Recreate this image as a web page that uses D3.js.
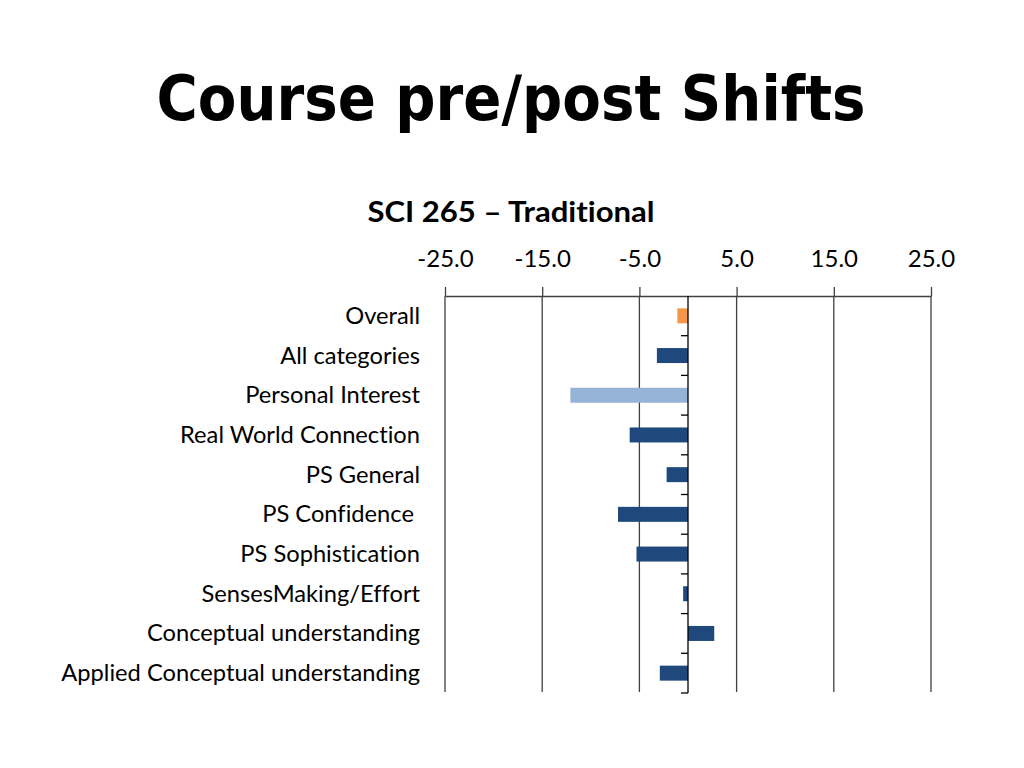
<!DOCTYPE html>
<html><head><meta charset="utf-8">
<script src="https://cdn.jsdelivr.net/npm/d3@7"></script>
<style>body{margin:0;background:#fff}svg{display:block}text{font-variant-ligatures:none;font-feature-settings:"liga" 0}</style>
</head><body>
<svg id="c" width="1024" height="768"></svg>
<script>
const categories = ["Overall","All categories","Personal Interest","Real World Connection","PS General","PS Confidence ","PS Sophistication","SensesMaking/Effort","Conceptual understanding","Applied Conceptual understanding"];
const values = [-1.1,-3.2,-12.1,-6.0,-2.2,-7.2,-5.3,-0.5,2.7,-2.9];
const barColors = ["#F79646","#1F497D","#95B3D7","#1F497D","#1F497D","#1F497D","#1F497D","#1F497D","#1F497D","#1F497D"];
const tickValues = [-25,-15,-5,5,15,25];
const title = "Course pre/post Shifts";
const subtitle = "SCI 265 \u2013 Traditional";

const svg = d3.select("#c");
const x = d3.scaleLinear().domain([-25,25]).range([445,931]);
const y = d3.scaleBand().domain(categories).range([296,693]).padding(0);
const barH = 15;
const gridCol = "#404040";

svg.append("text").attr("x",511).attr("y",120).attr("text-anchor","middle")
  .attr("font-family","DejaVu Sans").attr("font-weight","bold").attr("font-size",62)
  .attr("textLength",709).attr("lengthAdjust","spacingAndGlyphs").text(title);
svg.append("text").attr("x",511).attr("y",222).attr("text-anchor","middle")
  .attr("font-family","Lato").attr("font-weight","bold").attr("font-size",29)
  .attr("textLength",287).attr("lengthAdjust","spacingAndGlyphs").text(subtitle);

// gridlines
svg.append("g").selectAll("line").data(tickValues).join("line")
  .attr("x1",d=>x(d)).attr("x2",d=>x(d)).attr("y1",296).attr("y2",692)
  .attr("stroke",gridCol).attr("stroke-width",1.3);

// top axis
const fmt = d => d3.format(".1f")(d).replace("\u2212","-");
const ax = svg.append("g").attr("transform","translate(0,296)")
  .call(d3.axisTop(x).tickValues(tickValues).tickFormat(fmt).tickSizeInner(9).tickSizeOuter(0).tickPadding(20));
ax.select(".domain").attr("stroke",gridCol).attr("stroke-width",1.3);
ax.selectAll(".tick line").attr("stroke",gridCol).attr("stroke-width",1.3);
ax.selectAll(".tick text").attr("font-family","Lato").attr("font-size",24).attr("fill","#000").attr("dy",0);

// bars
svg.append("g").selectAll("rect").data(categories).join("rect")
  .attr("x",(d,i)=>x(Math.min(0,values[i])))
  .attr("width",(d,i)=>Math.abs(x(values[i])-x(0)))
  .attr("y",d=>y(d)+y.bandwidth()/2-barH/2)
  .attr("height",barH)
  .attr("fill",(d,i)=>barColors[i]);

// zero category axis
svg.append("line").attr("x1",x(0)).attr("x2",x(0)).attr("y1",296).attr("y2",693)
  .attr("stroke","#000").attr("stroke-width",1.3);
svg.append("g").selectAll("line").data(categories).join("line")
  .attr("x1",x(0)-7).attr("x2",x(0))
  .attr("y1",d=>y(d)+y.bandwidth()).attr("y2",d=>y(d)+y.bandwidth())
  .attr("stroke","#000").attr("stroke-width",1.3);

// category labels
svg.append("g").selectAll("text").data(categories).join("text")
  .attr("x",420).attr("y",d=>y(d)+y.bandwidth()/2+8)
  .attr("text-anchor","end").attr("font-family","Lato").attr("font-size",23.7)
  .attr("fill","#000").attr("xml:space","preserve").text(d=>d);
</script>
</body></html>
